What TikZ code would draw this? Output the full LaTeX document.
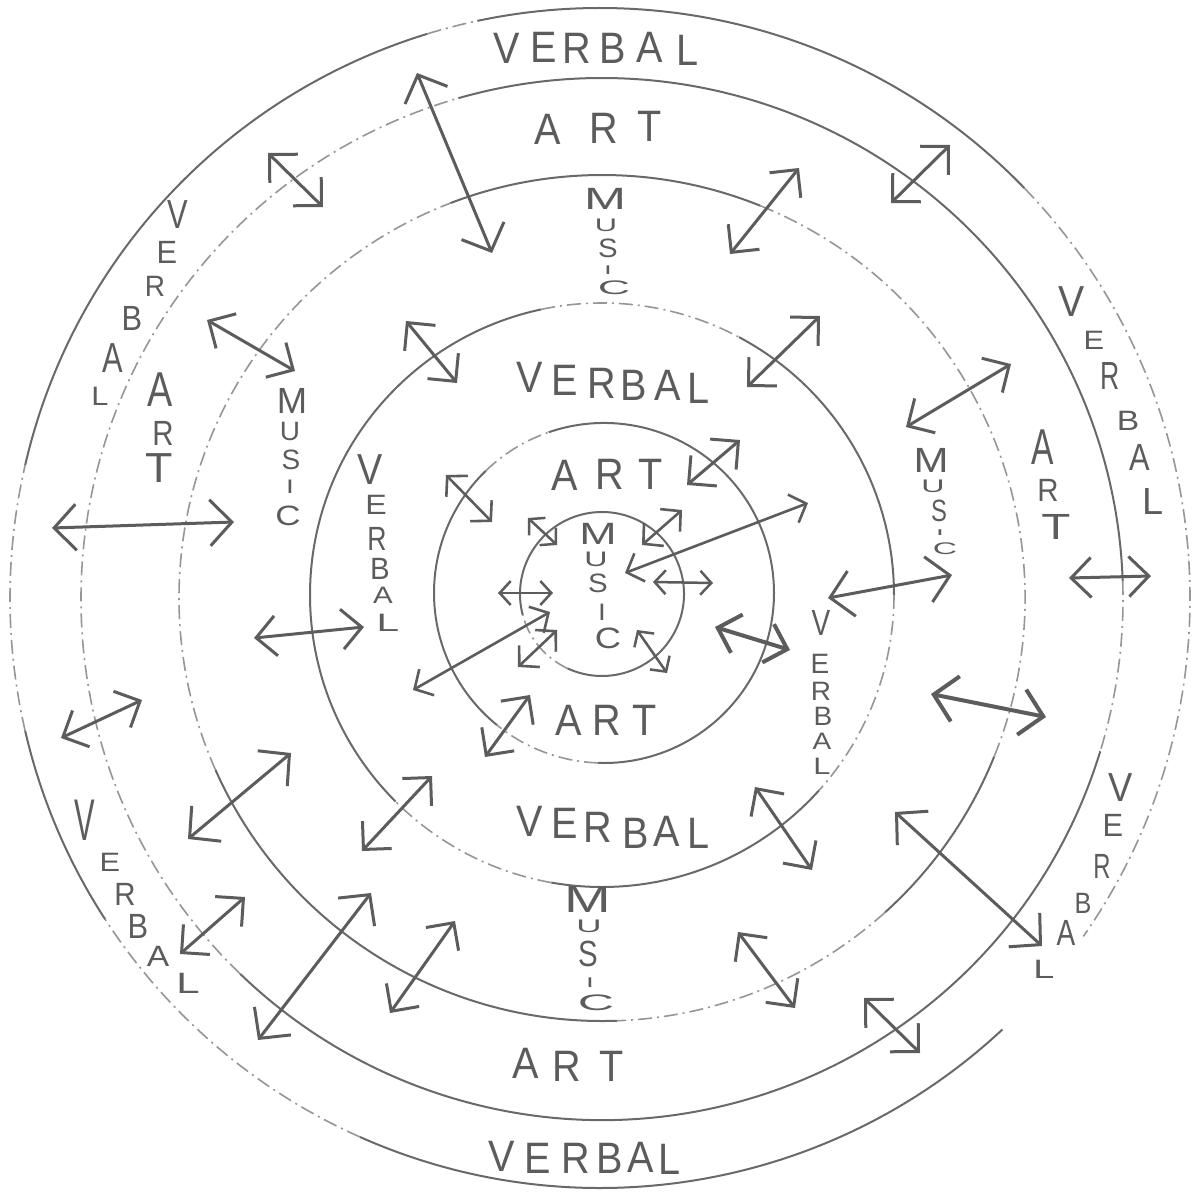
\documentclass[tikz,border=0pt]{standalone}
\usepackage{fontspec}
\setmainfont{Liberation Sans}
\usetikzlibrary{arrows.meta}
\definecolor{ink}{RGB}{92,92,92}
\definecolor{circ}{RGB}{105,105,105}
\definecolor{faint}{RGB}{150,150,150}
\tikzset{
  ring/.style={draw=circ, line width=2pt},
  dashring/.style={draw=faint, line width=1.6pt, dash pattern=on 14pt off 5pt on 2pt off 5pt},
  arrline/.style={draw=ink, line width=3pt, line cap=round, line join=round},
  barr/.style={arrline, {Straight Barb[length=22pt,width=46pt]}-{Straight Barb[length=22pt,width=46pt]}},
  marr/.style={arrline, {Straight Barb[length=20pt,width=40pt]}-{Straight Barb[length=20pt,width=40pt]}},
  tarr/.style={arrline, line width=2.6pt, {Straight Barb[length=14pt,width=30pt]}-{Straight Barb[length=14pt,width=30pt]}},
  sarr/.style={arrline, line width=2.5pt, {Straight Barb[length=11pt,width=24pt]}-{Straight Barb[length=11pt,width=24pt]}},
  lbig/.style={text=ink, inner sep=0pt, xscale=0.9, font=\fontsize{44}{44}\selectfont},
  lbase/.style={text=ink, inner sep=0pt, font=\fontsize{28}{28}\selectfont},
}
\begin{document}
\begin{tikzpicture}[x=1pt,y=-1pt]
\fill[white] (0,0) rectangle (1200,1194);
\useasboundingbox (0,0) rectangle (1200,1194);

% rings: solid parts
\foreach \cx/\cy/\r/\a/\b in {
  602/594/82/165/475,
  604/593/170/251/452, 604/593/170/129/226,
  602/595/292/135/258, 602/595/292/298/360, 602/595/292/402/460,
  602/598/423/249/292, 602/598/423/382/408, 602/598/423/88/156,
  602/599/521/254/358, 602/599/521/377/494,
  600/598/590/47/114, 600/598/590/147/167, 600/598/590/193/253, 600/598/590/258/316}
  \draw[ring] (\cx,\cy) ++(\a:\r) arc[start angle=\a, end angle=\b, radius=\r];
% rings: faint dash-dot parts
\foreach \cx/\cy/\r/\a/\b in {
  602/594/82/115/165,
  604/593/170/92/129, 604/593/170/226/251,
  602/595/292/258/298, 602/595/292/360/402, 602/595/292/100/135,
  602/598/423/292/382, 602/598/423/48/88, 602/598/423/156/249,
  602/599/521/358/377, 602/599/521/134/254,
  600/598/590/114/147, 600/598/590/167/193, 600/598/590/253/258, 600/598/590/316/395}
  \draw[dashring] (\cx,\cy) ++(\a:\r) arc[start angle=\a, end angle=\b, radius=\r];

% arrows
\foreach \n/\ax/\ay/\bx/\by in {
  a1/417/73/492/253, a4/52/528/234/522, a22/828/598/952/575,
  a25/895/812/1042/946, a30/258/1040/371/893, a33/188/839/291/753}
  {\coordinate (s\n) at (\ax,\ay); \coordinate (e\n) at (\bx,\by); \draw[barr] (s\n) -- (e\n);}
\foreach \n/\ax/\ay/\bx/\by in {
  a2/268/153/323/207, a3/207/320/295/371, a5/406/321/457/383,
  a15/687/485/740/440, a17/485/757/530/695, a18/747/387/820/316,
  a19/730/254/799/168, a20/891/203/950/145, a21/906/427/1011/364,
  a23/1069/578/1151/576, a26/755/787/812/870, a27/738/932/795/1008,
  a28/864/998/920/1053, a29/390/1013/455/921, a31/180/954/245/897,
  a32/362/851/432/776, a34/61/738/142/700, a35/254/638/364/627}
  {\coordinate (s\n) at (\ax,\ay); \coordinate (e\n) at (\bx,\by); \draw[marr] (s\n) -- (e\n);}
\coordinate (sa24) at (931,694); \coordinate (ea24) at (1046,717);
\draw[barr, line width=4pt] (sa24) -- (ea24);
\coordinate (sa16) at (715,627); \coordinate (ea16) at (790,650);
\draw[marr, line width=4pt] (sa16) -- (ea16);
\foreach \n/\ax/\ay/\bx/\by in {
  a6/446/475/492/522, a9/413/690/550/612, a10/518/667/557/630,
  a11/642/545/682/510, a12/625/573/808/503}
  {\coordinate (s\n) at (\ax,\ay); \coordinate (e\n) at (\bx,\by); \draw[tarr] (s\n) -- (e\n);}
\foreach \n/\ax/\ay/\bx/\by in {
  a7/528/518/557/545, a8/498/593/553/593, a13/653/582/713/583, a14/637/630/667/673}
  {\coordinate (s\n) at (\ax,\ay); \coordinate (e\n) at (\bx,\by); \draw[sarr] (s\n) -- (e\n);}

% big horizontal words
\foreach \c/\x/\y [count=\i] in {V/507/48, E/544/47, R/577/48, B/613/48, A/650/47, L/688/50}
  \node[lbig] (wA\i) at (\x,\y) {\c};
\foreach \c/\x/\y [count=\i] in {A/548/129, R/604/128, T/650/126}
  \node[lbig] (wB\i) at (\x,\y) {\c};
\foreach \c/\x/\y [count=\i] in {V/530/377, E/565/380, R/602/383, B/634/385, A/668/385, L/699/388}
  \node[lbig] (wD\i) at (\x,\y) {\c};
\foreach \c/\x/\y [count=\i] in {A/565/475, R/610/474, T/651/474}
  \node[lbig] (wE\i) at (\x,\y) {\c};
\foreach \c/\x/\y [count=\i] in {A/569/720, R/607/720, T/645/720}
  \node[lbig] (wG\i) at (\x,\y) {\c};
\foreach \c/\x/\y [count=\i] in {V/530/821, E/565/823, R/598/827, B/636/833, A/667/831, L/699/833}
  \node[lbig] (wH\i) at (\x,\y) {\c};
\foreach \c/\x/\y [count=\i] in {A/526/1063, R/567/1066, T/612/1066}
  \node[lbig] (wJ\i) at (\x,\y) {\c};
\foreach \c/\x/\y [count=\i] in {V/502/1156, E/538/1158, R/576/1158, B/610/1158, A/641/1157, L/670/1159}
  \node[lbig] (wK\i) at (\x,\y) {\c};

% stacked MUSIC words (letter / x / y / xscale / yscale)
\foreach \c/\x/\y/\xs/\ys [count=\i] in {M/605/199/1.8/1.1, U/606/225/1.1/0.65, S/608/248/1.05/0.95, I/608/270/1/0.45, C/614/288/1.6/0.7}
  \node[lbase, xscale=\xs, yscale=\ys] (wC\i) at (\x,\y) {\c};
\foreach \c/\x/\y/\xs/\ys [count=\i] in {M/598/534/1.6/1.1, U/596/559/1.15/0.75, S/598/583/1.05/0.95, I/602/612/1/0.85, C/608/638/1.3/1.05}
  \node[lbase, xscale=\xs, yscale=\ys] (wF\i) at (\x,\y) {\c};
\foreach \c/\x/\y/\xs/\ys [count=\i] in {M/588/899/2.0/1.35, U/589/926/1.25/0.65, S/588/954/1.05/1.3, I/590/983/1/0.5, C/596/1003/1.8/0.8}
  \node[lbase, xscale=\xs, yscale=\ys] (wI\i) at (\x,\y) {\c};
\foreach \c/\x/\y/\xs/\ys [count=\i] in {M/292/401/1.3/1.3, U/290/431/1/0.95, S/291/460/1/1.0, I/290/487/1/0.7, C/288/516/1.25/1.0}
  \node[lbase, xscale=\xs, yscale=\ys] (wN\i) at (\x,\y) {\c};
\foreach \c/\x/\y/\xs/\ys [count=\i] in {M/931/460/1.5/1.25, U/933/486/1.15/0.65, S/939/511/0.85/1.1, I/940/533/1/0.3, C/945/549/1.2/0.6}
  \node[lbase, xscale=\xs, yscale=\ys] (wP\i) at (\x,\y) {\c};

% vertical / curved VERBAL and ART words
\foreach \c/\x/\y/\xs/\ys [count=\i] in {V/178/215/1.1/1.45, E/167/252/1.1/1.15, R/155/286/1/1.05, B/132/318/1.1/1.25, A/113/358/1.1/1.5, L/100/396/1.1/0.95}
  \node[lbase, xscale=\xs, yscale=\ys] (wL\i) at (\x,\y) {\c};
\foreach \c/\x/\y/\xs/\ys [count=\i] in {A/160/390/1.35/1.75, R/163/433/1.05/1.25, T/159/468/1.6/1.5}
  \node[lbase, xscale=\xs, yscale=\ys] (wM\i) at (\x,\y) {\c};
\foreach \c/\x/\y/\xs/\ys [count=\i] in {V/370/470/1.35/1.55, E/376/505/1.15/1.0, R/377/539/0.95/1.2, B/380/569/1.05/1.1, A/383/595/1.05/0.85, L/388/623/1.45/0.9}
  \node[lbase, xscale=\xs, yscale=\ys] (wO\i) at (\x,\y) {\c};
\foreach \c/\x/\y/\xs/\ys [count=\i] in {A/1043/447/1.2/1.8, R/1048/490/1.05/1.15, T/1056/527/1.7/1.3}
  \node[lbase, xscale=\xs, yscale=\ys] (wQ\i) at (\x,\y) {\c};
\foreach \c/\x/\y/\xs/\ys [count=\i] in {V/1072/302/1.4/1.55, E/1094/340/1.1/0.95, R/1110/376/0.95/1.4, B/1128/421/1.2/1.0, A/1140/457/1.1/1.35, L/1153/501/1.35/1.35}
  \node[lbase, xscale=\xs, yscale=\ys] (wR\i) at (\x,\y) {\c};
\foreach \c/\x/\y/\xs/\ys [count=\i] in {V/821/623/1/1.3, E/820/664/1/1.0, R/821/691/1/0.95, B/823/716/1/0.95, A/822/741/1/0.85, L/822/766/1.1/0.85}
  \node[lbase, xscale=\xs, yscale=\ys] (wS\i) at (\x,\y) {\c};
\foreach \c/\x/\y/\xs/\ys [count=\i] in {V/85/820/1.1/2.1, E/110/862/1.1/0.95, R/125/894/1.05/1.15, B/138/926/1.1/1.25, A/158/956/1.2/1.05, L/188/983/1.5/1.05}
  \node[lbase, xscale=\xs, yscale=\ys] (wT\i) at (\x,\y) {\c};
\foreach \c/\x/\y/\xs/\ys [count=\i] in {V/1121/788/1.3/1.45, E/1113/825/1.1/1.15, R/1102/866/0.85/1.25, B/1083/903/0.9/1.05, A/1066/933/1.0/1.3, L/1044/969/1.35/0.95}
  \node[lbase, xscale=\xs, yscale=\ys] (wU\i) at (\x,\y) {\c};
\end{tikzpicture}
\end{document}
